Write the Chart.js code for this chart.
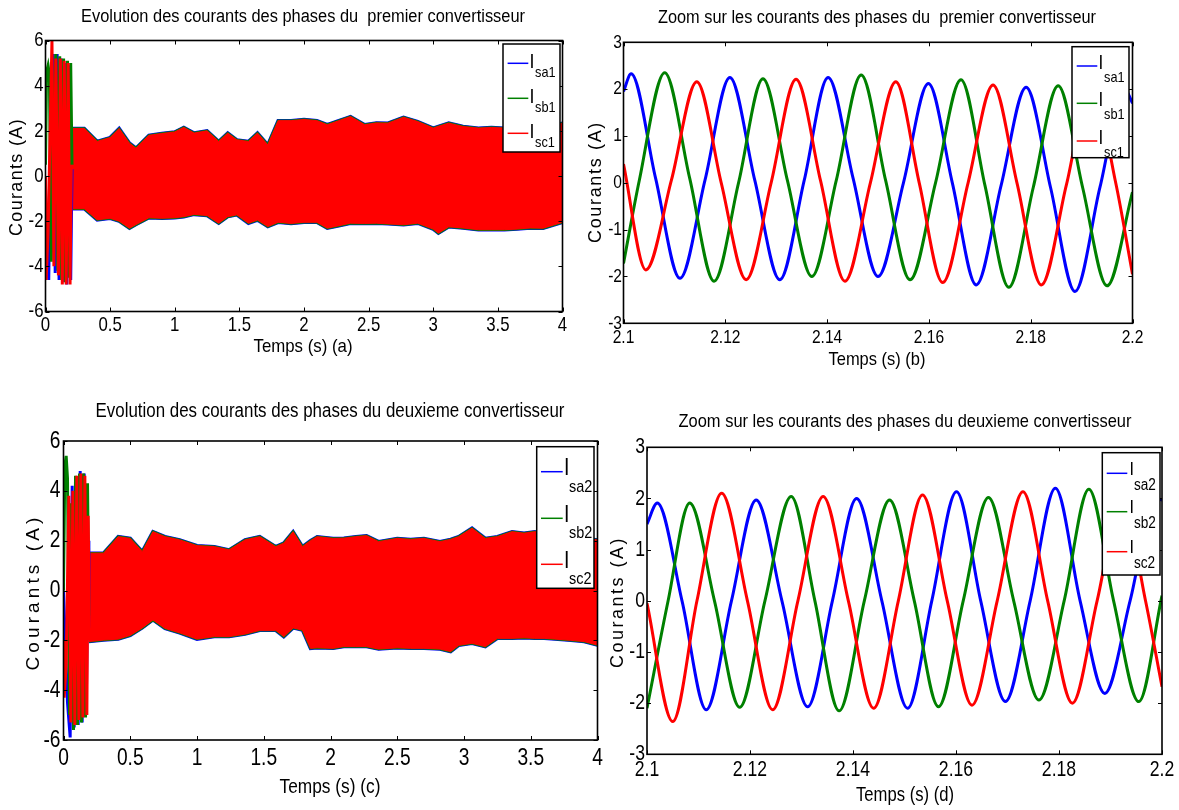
<!DOCTYPE html>
<html>
<head>
<meta charset="utf-8">
<script src="https://cdn.jsdelivr.net/npm/chart.js@4.4.0/dist/chart.umd.min.js"></script>
<style>
  html, body { margin: 0; padding: 0; background: #fff; }
  #page { position: relative; width: 1179px; height: 810px; overflow: hidden; background: #fff; }
  #page canvas { position: absolute; left: 0; top: 0; }
</style>
</head>
<body>
<div id="page">
  <canvas id="chartA" width="1179" height="810"></canvas>
  <canvas id="chartB" width="1179" height="810"></canvas>
  <canvas id="chartC" width="1179" height="810"></canvas>
  <canvas id="chartD" width="1179" height="810"></canvas>
</div>
<script>
// ---------- axes ----------
const xTicksFull = [0, 0.5, 1, 1.5, 2, 2.5, 3, 3.5, 4];
const yTicksFull = [-6, -4, -2, 0, 2, 4, 6];
const xTicksZoom = [2.1, 2.12, 2.14, 2.16, 2.18, 2.2];
const yTicksZoom = [-3, -2, -1, 0, 1, 2, 3];

const phaseNames1 = ['sa1', 'sb1', 'sc1'];
const phaseNames2 = ['sa2', 'sb2', 'sc2'];

// ---------- (a) premier convertisseur, 0..4 s ----------
// envelope of the dense 50 Hz band after start-up
const envTimeA = [0.2, 0.3, 0.4, 0.5, 0.57, 0.65, 0.7, 0.8, 0.9, 1.0, 1.07, 1.15, 1.25, 1.34, 1.41, 1.48, 1.57, 1.64, 1.72, 1.8, 1.9, 2.0, 2.1, 2.18, 2.27, 2.36, 2.47, 2.56, 2.65, 2.77, 2.88, 3.0, 3.04, 3.12, 3.23, 3.35, 3.45, 3.55, 3.65, 3.75, 3.85, 4.0];
const envHighA = [2.1, 2.1, 1.53, 1.7, 2.1, 1.45, 1.23, 1.8, 1.88, 1.95, 2.15, 1.9, 2.0, 1.53, 1.9, 1.6, 1.53, 1.9, 1.38, 2.45, 2.45, 2.5, 2.45, 2.27, 2.45, 2.63, 2.27, 2.35, 2.34, 2.6, 2.41, 2.12, 2.2, 2.34, 2.19, 2.12, 2.15, 2.12, 2.0, 1.97, 2.1, 2.34];
const envLowA = [-1.45, -1.45, -1.94, -1.87, -2.0, -2.31, -2.15, -1.85, -1.87, -1.85, -1.8, -1.7, -1.75, -2.09, -1.8, -1.72, -2.09, -1.95, -2.24, -2.05, -2.1, -2.05, -2.05, -2.31, -2.2, -2.09, -2.1, -2.09, -2.12, -2.16, -2.09, -2.35, -2.53, -2.25, -2.3, -2.38, -2.38, -2.38, -2.35, -2.3, -2.31, -2.05];
// start-up transient of each phase
const isa1StartT = [0, 0.01, 0.025, 0.04, 0.06, 0.075, 0.09, 0.105, 0.12, 0.135, 0.15, 0.165, 0.18, 0.195, 0.205];
const isa1StartV = [-0.5, -3.0, -4.6, 1.8, 5.4, -4.3, 5.4, -4.6, 5.2, -4.7, 5.0, -4.8, 4.9, -4.6, 0.3];
const isb1StartT = [0, 0.008, 0.02, 0.03, 0.045, 0.065, 0.08, 0.095, 0.11, 0.125, 0.14, 0.155, 0.17, 0.185, 0.195, 0.205];
const isb1StartV = [0.5, 4.6, 4.9, 4.5, -3.8, 3.2, 5.4, -4.2, 5.3, -4.6, 5.2, -4.7, 5.1, -4.5, 5.0, 0.5];
const isc1StartT = [0, 0.005, 0.02, 0.05, 0.065, 0.08, 0.1, 0.115, 0.13, 0.145, 0.16, 0.175, 0.19, 0.2];
const isc1StartV = [0, -4.6, -2.5, 6.0, -4.0, 5.2, -4.4, 5.2, -4.8, 5.1, -4.8, 5.0, -4.8, 0.5];

// ---------- (b) zoom premier convertisseur, 2.1..2.2 s ----------
const isa1T = [2.1, 2.1015, 2.1063, 2.1111, 2.116, 2.1209, 2.1258, 2.1307, 2.1355, 2.1402, 2.1451, 2.15, 2.155, 2.1599, 2.1646, 2.1693, 2.1742, 2.1791, 2.1839, 2.1887, 2.1936, 2.1985, 2.2];
const isa1V = [1.95, 2.33, 0.1, -2.04, 0.05, 2.25, 0.05, -2.07, 0.05, 2.25, 0.1, -2.0, 0.0, 2.12, 0.0, -2.18, -0.05, 2.04, -0.1, -2.32, -0.1, 2.0, 1.7];
const isb1T = [2.1, 2.1031, 2.1081, 2.113, 2.1178, 2.1226, 2.1274, 2.1322, 2.137, 2.1418, 2.1467, 2.1515, 2.1563, 2.1613, 2.1663, 2.171, 2.1757, 2.1805, 2.1854, 2.1902, 2.195, 2.2];
const isb1V = [-1.72, 0.05, 2.35, 0.1, -2.1, 0.0, 2.22, 0.05, -2.0, 0.05, 2.3, 0.05, -2.07, 0.0, 2.2, -0.05, -2.23, -0.1, 2.07, -0.1, -2.2, -0.2];
const isc1T = [2.1, 2.1044, 2.1094, 2.1144, 2.1192, 2.1241, 2.129, 2.1339, 2.1387, 2.1435, 2.1485, 2.1535, 2.1581, 2.1627, 2.1677, 2.1726, 2.1773, 2.1821, 2.187, 2.1919, 2.1967, 2.2];
const isc1V = [0.4, -1.86, 0.05, 2.16, 0.0, -2.07, 0.0, 2.21, 0.05, -2.1, 0.0, 2.16, 0.0, -2.13, 0.0, 2.09, 0.0, -2.18, -0.05, 2.1, 0.0, -1.95];

// ---------- (c) deuxieme convertisseur, 0..4 s ----------
const envTimeC = [0.19, 0.3, 0.41, 0.5, 0.59, 0.67, 0.76, 0.87, 1.0, 1.13, 1.24, 1.36, 1.47, 1.59, 1.65, 1.72, 1.79, 1.85, 1.9, 2.02, 2.1, 2.19, 2.27, 2.36, 2.5, 2.6, 2.7, 2.82, 2.9, 2.96, 3.06, 3.16, 3.25, 3.36, 3.45, 3.53, 3.6, 3.68, 3.8, 3.9, 4.0];
const envHighC = [1.5, 1.5, 2.16, 2.09, 1.56, 2.36, 2.16, 2.03, 1.8, 1.76, 1.63, 2.03, 2.16, 1.76, 1.9, 2.36, 1.76, 2.0, 2.16, 2.09, 2.1, 2.16, 2.2, 1.96, 2.09, 2.05, 2.09, 1.96, 2.05, 2.16, 2.5, 2.09, 2.16, 2.36, 2.3, 2.36, 2.3, 2.23, 2.09, 2.1, 2.03];
const envLowC = [-2.05, -1.99, -1.95, -1.8, -1.5, -1.18, -1.52, -1.7, -1.95, -1.85, -1.85, -1.75, -1.6, -1.6, -1.85, -1.5, -1.59, -2.32, -2.3, -2.32, -2.25, -2.25, -2.25, -2.35, -2.3, -2.32, -2.32, -2.35, -2.45, -2.2, -2.12, -2.25, -1.92, -1.92, -1.9, -1.92, -1.92, -1.95, -2.0, -2.05, -2.19];
const isa2StartT = [0, 0.01, 0.03, 0.05, 0.065, 0.08, 0.095, 0.11, 0.125, 0.14, 0.155, 0.17, 0.185, 0.19];
const isa2StartV = [0, -1.5, -4.5, -5.9, 4.2, -5.5, 4.5, -5.4, 4.8, -5.3, 4.7, -5.0, 2.0, -1.5];
const isb2StartT = [0, 0.01, 0.02, 0.03, 0.045, 0.06, 0.075, 0.09, 0.105, 0.12, 0.135, 0.15, 0.165, 0.18, 0.19];
const isb2StartV = [0, 5.0, 5.4, 4.5, -5.0, 3.5, -5.6, 4.6, -5.4, 4.7, -5.3, 4.7, -5.1, 4.3, -1.0];
const isc2StartT = [0, 0.005, 0.02, 0.04, 0.055, 0.07, 0.085, 0.1, 0.115, 0.13, 0.145, 0.16, 0.175, 0.185, 0.195];
const isc2StartV = [-2.0, -4.3, -3.0, 3.8, -5.3, 4.0, -5.4, 4.6, -5.2, 4.7, -5.1, 4.6, -5.0, 3.0, -2.0];

// ---------- (d) zoom deuxieme convertisseur, 2.1..2.2 s ----------
const isa2T = [2.1, 2.102, 2.1068, 2.1115, 2.1164, 2.1212, 2.1262, 2.1312, 2.136, 2.1407, 2.1456, 2.1506, 2.1553, 2.1601, 2.1648, 2.1696, 2.1744, 2.1793, 2.1841, 2.1889, 2.1938, 2.1988, 2.2];
const isa2V = [1.5, 1.91, 0.0, -2.13, 0.0, 1.97, 0.0, -2.07, 0.0, 2.0, 0.0, -2.1, 0.0, 2.13, 0.0, -1.97, 0.0, 2.2, 0.0, -1.81, 0.0, 2.0, 1.97];
const isb2T = [2.1, 2.1041, 2.1083, 2.1131, 2.118, 2.1229, 2.128, 2.1326, 2.1373, 2.1422, 2.1471, 2.1519, 2.1566, 2.1614, 2.1663, 2.1712, 2.1761, 2.181, 2.1858, 2.1906, 2.1955, 2.2];
const isb2V = [-2.1, 0.0, 1.91, 0.0, -2.08, 0.0, 2.04, 0.0, -2.15, 0.0, 1.97, 0.0, -2.07, 0.0, 2.02, 0.0, -1.94, 0.0, 2.18, 0.0, -1.97, 0.1];
const isc2T = [2.1, 2.105, 2.1097, 2.1145, 2.1195, 2.1244, 2.1293, 2.1342, 2.1391, 2.144, 2.1488, 2.1535, 2.1583, 2.1631, 2.168, 2.173, 2.1778, 2.1826, 2.1874, 2.1922, 2.1968, 2.2];
const isc2V = [-0.05, -2.36, 0.0, 2.1, 0.0, -2.13, 0.0, 2.04, 0.0, -2.1, 0.0, 2.07, 0.0, -2.04, 0.0, 2.13, 0.0, -2.0, 0.0, 2.0, 0.0, -1.68];

const BLUE = '#0000ff', GREEN = '#008000', RED = '#ff0000';
const FONT = '"Liberation Sans", Arial, Helvetica, sans-serif';

function pts(t, v) { return t.map((x, i) => ({ x: x, y: v[i] })); }

// envelope band of one phase: lower line + upper line filled down to it
function band(t, low, high, color, edge, order) {
  return [
    { data: pts(t, low), borderColor: color, borderWidth: edge, pointRadius: 0, fill: false, order: order },
    { data: pts(t, high), borderColor: color, borderWidth: edge, backgroundColor: color, pointRadius: 0, fill: '-1', order: order }
  ];
}
function wave(t, v, color, width, order, smooth) {
  return {
    data: pts(t, v), borderColor: color, borderWidth: width, pointRadius: 0, fill: false, order: order,
    cubicInterpolationMode: smooth ? 'monotone' : 'default', tension: 0
  };
}

// condensed text (the original figure uses a narrow face)
function say(ctx, text, x, y, size, sx, align, opts) {
  opts = opts || {};
  ctx.save();
  ctx.translate(x, y);
  if (opts.rotate) ctx.rotate(-Math.PI / 2);
  ctx.font = size + 'px ' + FONT;
  if (opts.fit) sx = opts.fit / ctx.measureText(text).width;
  if (opts.spread) {
    const w = ctx.measureText(text).width;
    ctx.letterSpacing = Math.max(0, (opts.spread - w) / text.length) + 'px';
  }
  ctx.scale(sx, 1);
  ctx.fillStyle = '#000';
  ctx.textAlign = align;
  ctx.textBaseline = opts.baseline || 'middle';
  ctx.fillText(text, 0, 0);
  ctx.restore();
}

// MATLAB-like box with inward ticks, tick labels, titles and the legend
const decor = {
  id: 'decor',
  afterDraw(chart, args, o) {
    const ctx = chart.ctx, a = chart.chartArea;
    const xs = chart.scales.x, ys = chart.scales.y;
    ctx.save();
    ctx.strokeStyle = '#000';
    ctx.lineWidth = 1;
    ctx.beginPath();
    xs.ticks.forEach(t => {
      const p = Math.round(xs.getPixelForValue(t.value)) + 0.5;
      ctx.moveTo(p, a.bottom); ctx.lineTo(p, a.bottom - o.tick);
      ctx.moveTo(p, a.top); ctx.lineTo(p, a.top + o.tick);
    });
    ys.ticks.forEach(t => {
      const p = Math.round(ys.getPixelForValue(t.value)) + 0.5;
      ctx.moveTo(a.left, p); ctx.lineTo(a.left + o.tick, p);
      ctx.moveTo(a.right, p); ctx.lineTo(a.right - o.tick, p);
    });
    ctx.stroke();
    ctx.lineWidth = 1.6;
    ctx.strokeRect(a.left, a.top, a.right - a.left, a.bottom - a.top);
    ctx.restore();

    xs.ticks.forEach(t => say(ctx, String(t.value), xs.getPixelForValue(t.value), a.bottom + o.xt.dy, o.xt.size, o.xt.sx, 'center'));
    ys.ticks.forEach(t => say(ctx, String(t.value), a.left - o.yt.gap, ys.getPixelForValue(t.value), o.yt.size, o.yt.sx, 'right'));

    o.texts.forEach(t => say(ctx, t.text, t.x, t.y, t.size, 1, 'center', t));

    const L = o.legend;
    ctx.save();
    ctx.fillStyle = '#fff';
    ctx.fillRect(L.x, L.y, L.w, L.h);
    ctx.strokeStyle = '#000';
    ctx.lineWidth = 1.5;
    ctx.strokeRect(L.x, L.y, L.w, L.h);
    L.names.forEach((name, i) => {
      const ry = L.rows[i];
      ctx.strokeStyle = L.colors[i];
      ctx.lineWidth = 1.5;
      ctx.beginPath();
      ctx.moveTo(L.x + L.line[0], ry);
      ctx.lineTo(L.x + L.line[1], ry);
      ctx.stroke();
      say(ctx, 'I', L.x + L.iX, ry + L.iDy, L.iSize, 0.85, 'left', { baseline: 'alphabetic' });
      say(ctx, name, L.x + L.subX, ry + L.subDy, L.subSize, 0.85, 'left', { baseline: 'alphabetic' });
    });
    ctx.restore();
  }
};

function axis(ticks, isX) {
  return {
    type: 'linear',
    min: ticks[0],
    max: ticks[ticks.length - 1],
    afterBuildTicks: s => { s.ticks = ticks.map(v => ({ value: v })); },
    afterFit: s => { if (isX) s.height = 40; else s.width = 40; },
    grid: { display: false },
    border: { display: false },
    ticks: { display: false }
  };
}

function panel(id, area, xTicks, yTicks, datasets, deco) {
  new Chart(document.getElementById(id), {
    type: 'line',
    data: { datasets: datasets },
    options: {
      responsive: false,
      animation: false,
      devicePixelRatio: 1,
      events: [],
      layout: { padding: { left: area.L - 40, top: area.T, right: 1179 - area.R, bottom: 810 - area.B - 40 } },
      plugins: { legend: { display: false }, tooltip: { enabled: false }, title: { display: false }, decor: deco },
      scales: { x: axis(xTicks, true), y: axis(yTicks, false) }
    },
    plugins: [decor]
  });
}

// ---------- (a) ----------
panel('chartA', { L: 45.5, T: 40.5, R: 562.5, B: 311.5 }, xTicksFull, yTicksFull, [
  ...band(envTimeA, envLowA, envHighA, BLUE, 3.5, 9),
  ...band(envTimeA, envLowA, envHighA, GREEN, 2.5, 8),
  ...band(envTimeA, envLowA, envHighA, RED, 1, 7),
  wave(isa1StartT, isa1StartV, BLUE, 3, 3, false),
  wave(isb1StartT, isb1StartV, GREEN, 3, 2, false),
  wave(isc1StartT, isc1StartV, RED, 3, 1, false)
], {
  tick: 4,
  xt: { size: 21, sx: 0.8, dy: 14 },
  yt: { size: 21, sx: 0.8, gap: 2 },
  texts: [
    { text: 'Evolution des courants des phases du  premier convertisseur', x: 303, y: 17, size: 18, fit: 444 },
    { text: 'Temps (s) (a)', x: 303, y: 347, size: 19, fit: 99 },
    { text: 'Courants (A)', x: 17, y: 177, size: 18, rotate: true, spread: 118 }
  ],
  legend: { x: 503, y: 44, w: 57, h: 108, rows: [63.3, 98.3, 133.3], line: [4.6, 25.3], iX: 26.6, iDy: 5, iSize: 21, subX: 32, subDy: 14, subSize: 15,
    names: phaseNames1, colors: [BLUE, GREEN, RED] }
});

// ---------- (b) ----------
panel('chartB', { L: 623.5, T: 42.3, R: 1132.5, B: 323.3 }, xTicksZoom, yTicksZoom, [
  wave(isa1T, isa1V, BLUE, 3, 3, true),
  wave(isb1T, isb1V, GREEN, 3, 2, true),
  wave(isc1T, isc1V, RED, 3, 1, true)
], {
  tick: 4,
  xt: { size: 19, sx: 0.82, dy: 14.7 },
  yt: { size: 19, sx: 0.82, gap: 1.5 },
  texts: [
    { text: 'Zoom sur les courants des phases du  premier convertisseur', x: 877, y: 18, size: 18, fit: 438 },
    { text: 'Temps (s) (b)', x: 877, y: 360, size: 19, fit: 97 },
    { text: 'Courants (A)', x: 596, y: 182, size: 18, rotate: true, spread: 122 }
  ],
  legend: { x: 1072, y: 46.7, w: 57, h: 111, rows: [66, 103.3, 141], line: [4.7, 25.3], iX: 26.6, iDy: 2.5, iSize: 20, subX: 32, subDy: 16, subSize: 15,
    names: phaseNames1, colors: [BLUE, GREEN, RED] }
});

// ---------- (c) ----------
panel('chartC', { L: 63.5, T: 441, R: 597.5, B: 740 }, xTicksFull, yTicksFull, [
  ...band(envTimeC, envLowC, envHighC, BLUE, 3.5, 9),
  ...band(envTimeC, envLowC, envHighC, GREEN, 2.5, 8),
  ...band(envTimeC, envLowC, envHighC, RED, 1, 7),
  wave(isa2StartT, isa2StartV, BLUE, 3, 3, false),
  wave(isb2StartT, isb2StartV, GREEN, 3, 2, false),
  wave(isc2StartT, isc2StartV, RED, 3, 1, false)
], {
  tick: 4,
  xt: { size: 24, sx: 0.8, dy: 18 },
  yt: { size: 24, sx: 0.8, gap: 3 },
  texts: [
    { text: 'Evolution des courants des phases du deuxieme convertisseur', x: 330, y: 411, size: 20, fit: 469 },
    { text: 'Temps (s) (c)', x: 330, y: 787, size: 21, fit: 101 },
    { text: 'Courants (A)', x: 34, y: 592, size: 19, rotate: true, spread: 157 }
  ],
  legend: { x: 536.7, y: 446.7, w: 57.3, h: 141.6, rows: [471.7, 518.3, 564.3], line: [4.3, 26], iX: 27.4, iDy: 3.3, iSize: 23, subX: 32.3, subDy: 20, subSize: 17,
    names: phaseNames2, colors: [BLUE, GREEN, RED] }
});

// ---------- (d) ----------
panel('chartD', { L: 647, T: 447.3, R: 1162, B: 754.3 }, xTicksZoom, yTicksZoom, [
  wave(isa2T, isa2V, BLUE, 3, 3, true),
  wave(isb2T, isb2V, GREEN, 3, 2, true),
  wave(isc2T, isc2V, RED, 3, 1, true)
], {
  tick: 4,
  xt: { size: 22, sx: 0.8, dy: 15.7 },
  yt: { size: 22, sx: 0.8, gap: 2 },
  texts: [
    { text: 'Zoom sur les courants des phases du deuxieme convertisseur', x: 905, y: 422, size: 19, fit: 453 },
    { text: 'Temps (s) (d)', x: 905, y: 795, size: 21, fit: 98 },
    { text: 'Courants (A)', x: 618, y: 602, size: 18, rotate: true, spread: 132 }
  ],
  legend: { x: 1102.3, y: 452.7, w: 57.7, h: 122.3, rows: [473.3, 511.7, 551.7], line: [4.4, 25], iX: 27.3, iDy: 1.7, iSize: 19, subX: 31.7, subDy: 16.7, subSize: 16,
    names: phaseNames2, colors: [BLUE, GREEN, RED] }
});
</script>
</body>
</html>
